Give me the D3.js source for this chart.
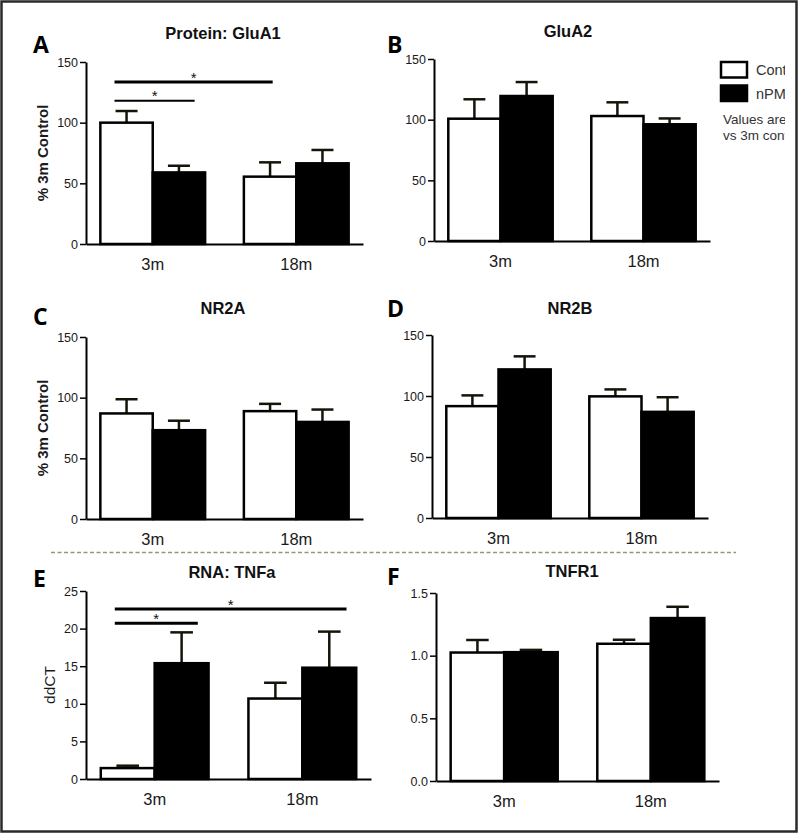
<!DOCTYPE html>
<html><head><meta charset="utf-8">
<script src="https://cdn.jsdelivr.net/npm/d3@7"></script>
<style>body{margin:0;background:#fff}</style>
</head><body><svg id="c" width="800" height="835"></svg>
<script>
// ---------- data ----------
const groups = ["3m", "18m"];
const seriesNames = ["Control", "nPM"];

const gluA1Control = [100, 55.5], gluA1ControlSem = [9.6, 11.8];
const gluA1Npm = [59, 66.5],      gluA1NpmSem = [5.5, 11];

const gluA2Control = [100.8, 103], gluA2ControlSem = [16, 11.3];
const gluA2Npm = [119.5, 96.2],    gluA2NpmSem = [11.5, 4.8];

const nr2aControl = [87, 88.9], nr2aControlSem = [11.7, 6];
const nr2aNpm = [73.2, 80],     nr2aNpmSem = [7.8, 10.2];

const nr2bControl = [91.7, 99.7], nr2bControlSem = [8.8, 5.7];
const nr2bNpm = [121.8, 87],      nr2bNpmSem = [10.7, 12];

const tnfaControl = [1.45, 10.7], tnfaControlSem = [0.32, 2.1];
const tnfaNpm = [15.4, 14.8],     tnfaNpmSem = [4.1, 4.8];

const tnfr1Control = [1.025, 1.095], tnfr1ControlSem = [0.10, 0.032];
const tnfr1Npm = [1.028, 1.30],      tnfr1NpmSem = [0.018, 0.09];

const ticksPercent = [0, 50, 100, 150];
const ticksTnfa = [0, 5, 10, 15, 20, 25];
const ticksTnfr1 = [0, 0.5, 1.0, 1.5];

// significance bars: [fromGroup, fromSeries, toGroup, toSeries, level]
const sigGluA1 = [["3m","Control","18m","Control",133.5], ["3m","Control","3m","nPM",118]];
const sigTnfa  = [["3m","Control","18m","nPM",22.6], ["3m","Control","3m","nPM",20.7]];

const legendLabels = ["Control", "nPM"];
const noteLines = ["Values are", "vs 3m control"];

// ---------- drawing ----------
const svg = d3.select("#c");
const font = "'Liberation Sans', Arial, sans-serif";

svg.append("rect").attr("x",1.5).attr("y",1.5).attr("width",795).attr("height",830)
  .attr("fill","#fff").attr("stroke","#2a2a2a").attr("stroke-width",2.5);

const panels = [
  {letter:"A", title:"Protein: GluA1", tx:223, lx:33, lby:53, ty:39, ctrl:gluA1Control, ctrlSem:gluA1ControlSem, npm:gluA1Npm, npmSem:gluA1NpmSem,
   ticks:ticksPercent, fmt:d3.format("d"), max:150, x0:86, x1:363, yTop:62, yBot:244, ylab:"% 3m Control", ylabBold:true, ylabX:48,
   sig:sigGluA1, sigFrac:[[0.27,0.55],[0.27,0.8]], sigW:[3,2]},
  {letter:"B", title:"GluA2", tx:568, lx:387, lby:53, ty:37, ctrl:gluA2Control, ctrlSem:gluA2ControlSem, npm:gluA2Npm, npmSem:gluA2NpmSem,
   ticks:ticksPercent, fmt:d3.format("d"), max:150, x0:434, x1:710, yTop:59, yBot:241},
  {letter:"C", title:"NR2A", tx:223, lx:33, lby:325, ty:314, ctrl:nr2aControl, ctrlSem:nr2aControlSem, npm:nr2aNpm, npmSem:nr2aNpmSem,
   ticks:ticksPercent, fmt:d3.format("d"), max:150, x0:86, x1:363, yTop:337, yBot:519, ylab:"% 3m Control", ylabBold:true, ylabX:48},
  {letter:"D", title:"NR2B", tx:570, lx:387, lby:317, ty:314, ctrl:nr2bControl, ctrlSem:nr2bControlSem, npm:nr2bNpm, npmSem:nr2bNpmSem,
   ticks:ticksPercent, fmt:d3.format("d"), max:150, x0:432, x1:708, yTop:335, yBot:518},
  {letter:"E", title:"RNA: TNFa", tx:232, lx:33, lby:587, ty:578, ctrl:tnfaControl, ctrlSem:tnfaControlSem, npm:tnfaNpm, npmSem:tnfaNpmSem,
   ticks:ticksTnfa, fmt:d3.format("d"), max:25, x0:86, x1:371, yTop:591, yBot:779, ylab:"ddCT", ylabBold:false, ylabX:55,
   sig:sigTnfa, sigFrac:[[0.26,0.82],[0.26,0.8]], sigW:[3,3]},
  {letter:"F", title:"TNFR1", tx:572, lx:387, lby:585, ty:577, ctrl:tnfr1Control, ctrlSem:tnfr1ControlSem, npm:tnfr1Npm, npmSem:tnfr1NpmSem,
   ticks:ticksTnfr1, fmt:d3.format(".1f"), max:1.5, x0:436, x1:719, yTop:593, yBot:781}
];

panels.forEach(p => {
  const g = svg.append("g");
  const y = d3.scaleLinear().domain([0, p.max]).range([p.yBot, p.yTop]);
  const xg = d3.scaleBand().domain(groups).range([p.x0, p.x1]).paddingInner(0.27).paddingOuter(0.1);
  const xs = d3.scaleBand().domain(seriesNames).range([0, xg.bandwidth()]);
  const bw = xs.bandwidth();

  const rows = [];
  groups.forEach((gr, i) => {
    rows.push({g:gr, s:"Control", v:p.ctrl[i], e:p.ctrlSem[i]});
    rows.push({g:gr, s:"nPM", v:p.npm[i], e:p.npmSem[i]});
  });

  // error bars
  rows.forEach(r => {
    const cx = xg(r.g) + xs(r.s) + bw/2;
    g.append("line").attr("x1",cx).attr("x2",cx).attr("y1",y(r.v)).attr("y2",y(r.v+r.e))
      .attr("stroke","#141408").attr("stroke-width",2.5);
    g.append("line").attr("x1",cx-bw*0.21).attr("x2",cx+bw*0.21).attr("y1",y(r.v+r.e)).attr("y2",y(r.v+r.e))
      .attr("stroke","#141408").attr("stroke-width",2.5);
  });
  // bars
  g.selectAll("rect.bar").data(rows).enter().append("rect").attr("class","bar")
    .attr("x", d => xg(d.g) + xs(d.s))
    .attr("width", bw)
    .attr("y", d => y(d.v))
    .attr("height", d => p.yBot - y(d.v))
    .attr("fill", d => d.s === "Control" ? "#fff" : "#000")
    .attr("stroke","#000").attr("stroke-width",2.5);

  // y axis
  const ya = g.append("g").attr("transform",`translate(${p.x0},0)`)
    .call(d3.axisLeft(y).tickValues(p.ticks).tickFormat(p.fmt).tickSize(6).tickSizeOuter(0).tickPadding(2));
  ya.select(".domain").attr("stroke","#000").attr("stroke-width",2);
  ya.selectAll(".tick line").attr("stroke","#000").attr("stroke-width",1.5);
  ya.selectAll(".tick text").attr("font-family",font).attr("font-size",12.5).attr("fill","#1a1a1a");

  // x axis
  const xa = g.append("g").attr("transform",`translate(0,${p.yBot})`)
    .call(d3.axisBottom(xg).tickSize(0).tickSizeOuter(0).tickPadding(14));
  xa.select(".domain").attr("stroke","#000").attr("stroke-width",2.2);
  xa.selectAll(".tick text").attr("font-family",font).attr("font-size",16.5).attr("fill","#1a1a1a");

  // title and letter
  g.append("text").attr("x",p.tx).attr("y",p.ty).attr("text-anchor","middle")
    .attr("font-family",font).attr("font-weight","bold").attr("font-size",16.5).attr("fill","#111").text(p.title);
  g.append("text").attr("x",p.lx).attr("y",p.lby)
    .attr("font-family","'Open Sans', 'Liberation Sans', sans-serif").attr("font-weight","bold").attr("font-size",23).attr("fill","#000").text(p.letter);

  if (p.ylab) {
    g.append("text").attr("transform",`translate(${p.ylabX},${(p.yTop+p.yBot)/2}) rotate(-90)`)
      .attr("text-anchor","middle").attr("font-family",font).attr("font-size",p.ylabBold?15:15.5)
      .attr("font-weight",p.ylabBold?"bold":"normal").attr("fill","#1a1a1a").text(p.ylab);
  }

  if (p.sig) {
    p.sig.forEach((s, i) => {
      const xa1 = xg(s[0]) + xs(s[1]) + bw*p.sigFrac[i][0];
      const xa2 = xg(s[2]) + xs(s[3]) + bw*p.sigFrac[i][1];
      const yy = y(s[4]);
      g.append("line").attr("x1",xa1).attr("x2",xa2).attr("y1",yy).attr("y2",yy)
        .attr("stroke","#000").attr("stroke-width",p.sigW[i]);
      g.append("text").attr("x",(xa1+xa2)/2).attr("y",yy+0.5).attr("text-anchor","middle")
        .attr("font-family",font).attr("font-size",15).attr("fill","#111").text("*");
    });
  }
});

// legend (cut at the right edge like the reference)
svg.append("clipPath").attr("id","lclip").append("rect").attr("x",700).attr("y",40).attr("width",85).attr("height",120);
const lg = svg.append("g").attr("clip-path","url(#lclip)");
legendLabels.forEach((lab, i) => {
  lg.append("rect").attr("x",721).attr("y",62 + i*23.5).attr("width",26).attr("height",15.5)
    .attr("fill", i === 0 ? "#fff" : "#000").attr("stroke","#000").attr("stroke-width",2.5);
  lg.append("text").attr("x",756).attr("y",75 + i*23.5).attr("font-family",font).attr("font-size",14.5)
    .attr("fill","#333").text(lab);
});
noteLines.forEach((t, i) => {
  lg.append("text").attr("x",723).attr("y",124 + i*15.5).attr("font-family",font).attr("font-size",13.5)
    .attr("fill","#333").text(t);
});

// dashed separator
svg.append("line").attr("x1",51).attr("x2",736).attr("y1",552.5).attr("y2",552.5)
  .attr("stroke","#9a9670").attr("stroke-width",1.6).attr("stroke-dasharray","4,2.5");
</script>
</body></html>
